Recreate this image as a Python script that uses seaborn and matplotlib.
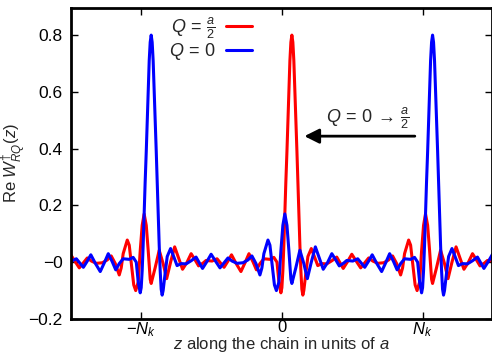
import matplotlib
matplotlib.use('Agg')
import matplotlib.pyplot as plt
import seaborn as sns
import pandas as pd

# z em unidades de N_k
z_red = [-1.532, -1.503, -1.472, -1.440, -1.411, -1.383, -1.354, -1.319, -1.276, -1.241,
         -1.213, -1.184, -1.156, -1.142, -1.128, -1.099, -1.085, -1.071, -1.053, -1.039,
         -1.021, -1.007, -0.993, -0.979, -0.964, -0.950, -0.936,
         -0.929, -0.901, -0.872, -0.844, -0.819, -0.791, -0.762, -0.734, -0.706, -0.674,
         -0.645, -0.617, -0.592, -0.560, -0.539, -0.496, -0.461, -0.436, -0.411, -0.383,
         -0.358, -0.326, -0.291, -0.262, -0.234, -0.206, -0.181, -0.156, -0.128, -0.085,
         -0.057, -0.035, -0.021, -0.007, 0.000, 0.007, 0.014, 0.021, 0.028, 0.036,
         0.043, 0.050, 0.057, 0.064, 0.071, 0.078, 0.085, 0.092, 0.099, 0.107,
         0.114, 0.121, 0.128, 0.135, 0.142, 0.149, 0.156, 0.170, 0.185, 0.209,
         0.231, 0.255, 0.284, 0.319, 0.355, 0.390, 0.411, 0.436, 0.468, 0.497,
         0.528, 0.560, 0.589, 0.617, 0.646, 0.681, 0.724, 0.759, 0.787, 0.816,
         0.844, 0.858, 0.872, 0.901, 0.915, 0.929, 0.947, 0.961, 0.979, 0.993,
         1.007, 1.021, 1.036, 1.050, 1.064,
         1.071, 1.099, 1.128, 1.156, 1.181, 1.209, 1.238, 1.266, 1.294, 1.326,
         1.355, 1.383, 1.408, 1.440, 1.461, 1.504, 1.539]
w_red = [0.003, 0.028, 0.004, -0.020, -0.002, 0.015, 0.004, -0.004, -0.002, 0.008,
         0.022, -0.005, -0.045, -0.020, 0.030, 0.078, 0.060, 0.000, -0.080, -0.100,
         -0.070, 0.040, 0.130, 0.170, 0.130, 0.040, -0.060,
         -0.075, -0.020, 0.042, -0.005, -0.058, 0.000, 0.054, 0.015, -0.025, 0.000,
         0.030, 0.008, -0.013, -0.003, 0.006, 0.004, 0.012, -0.003, -0.018, 0.004,
         0.026, -0.004, -0.033, -0.002, 0.030, 0.002, -0.027, -0.005, 0.012, 0.010,
         0.017, 0.000, -0.070, -0.108, -0.090, -0.030, 0.060, 0.170, 0.280, 0.390,
         0.500, 0.610, 0.710, 0.775, 0.800, 0.775, 0.710, 0.610, 0.500, 0.390,
         0.280, 0.170, 0.060, -0.030, -0.095, -0.116, -0.100, -0.040, 0.020, 0.048,
         0.020, -0.012, -0.005, -0.006, 0.005, 0.018, 0.000, -0.022, 0.003, 0.028,
         0.004, -0.020, -0.002, 0.015, 0.004, -0.004, -0.002, 0.008, 0.022, -0.005,
         -0.045, -0.020, 0.030, 0.078, 0.060, 0.000, -0.080, -0.100, -0.070, 0.040,
         0.130, 0.170, 0.130, 0.040, -0.060,
         -0.075, -0.020, 0.042, -0.005, -0.058, 0.000, 0.054, 0.015, -0.025, 0.000,
         0.030, 0.008, -0.013, -0.003, 0.006, 0.004, 0.012]

z_blue = [-1.539, -1.496, -1.461, -1.436, -1.411, -1.383, -1.358, -1.326, -1.291, -1.262,
          -1.234, -1.206, -1.181, -1.156, -1.128, -1.085, -1.057, -1.035, -1.021, -1.007,
          -1.000, -0.993, -0.986, -0.979, -0.972, -0.964, -0.957, -0.950, -0.943, -0.936,
          -0.929, -0.922, -0.915, -0.908, -0.901, -0.893, -0.886, -0.879, -0.872, -0.865,
          -0.858, -0.851, -0.844, -0.830, -0.815, -0.791, -0.769, -0.745, -0.716, -0.681,
          -0.645, -0.610, -0.589, -0.564, -0.532, -0.503, -0.472, -0.440, -0.411, -0.383,
          -0.354, -0.319, -0.276, -0.241, -0.213, -0.184, -0.156, -0.142, -0.128, -0.099,
          -0.085, -0.071, -0.053, -0.039, -0.021, -0.007, 0.007, 0.021, 0.036, 0.050,
          0.064,
          0.071, 0.099, 0.128, 0.156, 0.181, 0.209, 0.238, 0.266, 0.294, 0.326,
          0.355, 0.383, 0.408, 0.440, 0.461, 0.504, 0.539, 0.564, 0.589, 0.617,
          0.642, 0.674, 0.709, 0.738, 0.766, 0.794, 0.819, 0.844, 0.872, 0.915,
          0.943, 0.965, 0.979, 0.993, 1.000, 1.007, 1.014, 1.021, 1.028, 1.036,
          1.043, 1.050, 1.057, 1.064, 1.071, 1.078, 1.085, 1.092, 1.099, 1.107,
          1.114, 1.121, 1.128, 1.135, 1.142, 1.149, 1.156, 1.170, 1.185, 1.209,
          1.231, 1.255, 1.284, 1.319, 1.355, 1.390, 1.411, 1.436, 1.468, 1.497,
          1.528]
w_blue = [0.006, 0.004, 0.012, -0.003, -0.018, 0.004, 0.026, -0.004, -0.033, -0.002,
          0.030, 0.002, -0.027, -0.005, 0.012, 0.010, 0.017, 0.000, -0.070, -0.108,
          -0.090, -0.030, 0.060, 0.170, 0.280, 0.390, 0.500, 0.610, 0.710, 0.775,
          0.800, 0.775, 0.710, 0.610, 0.500, 0.390, 0.280, 0.170, 0.060, -0.030,
          -0.095, -0.116, -0.100, -0.040, 0.020, 0.048, 0.020, -0.012, -0.005, -0.006,
          0.005, 0.018, 0.000, -0.022, 0.003, 0.028, 0.004, -0.020, -0.002, 0.015,
          0.004, -0.004, -0.002, 0.008, 0.022, -0.005, -0.045, -0.020, 0.030, 0.078,
          0.060, 0.000, -0.080, -0.100, -0.070, 0.040, 0.130, 0.170, 0.130, 0.040,
          -0.060,
          -0.075, -0.020, 0.042, -0.005, -0.058, 0.000, 0.054, 0.015, -0.025, 0.000,
          0.030, 0.008, -0.013, -0.003, 0.006, 0.004, 0.012, -0.003, -0.018, 0.004,
          0.026, -0.004, -0.033, -0.002, 0.030, 0.002, -0.027, -0.005, 0.012, 0.010,
          0.017, 0.000, -0.070, -0.108, -0.090, -0.030, 0.060, 0.170, 0.280, 0.390,
          0.500, 0.610, 0.710, 0.775, 0.800, 0.775, 0.710, 0.610, 0.500, 0.390,
          0.280, 0.170, 0.060, -0.030, -0.095, -0.116, -0.100, -0.040, 0.020, 0.048,
          0.020, -0.012, -0.005, -0.006, 0.005, 0.018, 0.000, -0.022, 0.003, 0.028,
          0.004]

x_ticks = [-1, 0, 1]
x_tick_labels = [r'$-N_k$', '0', r'$N_k$']
y_ticks = [-0.2, 0, 0.2, 0.4, 0.6, 0.8]
y_tick_labels = ['\u22120.2', '\u22120', '0.2', '0.4', '0.6', '0.8']

df_red = pd.DataFrame({'z': z_red, 'w': w_red})
df_blue = pd.DataFrame({'z': z_blue, 'w': w_blue})

sns.set_style('ticks')
plt.rcParams['font.family'] = ['Liberation Sans', 'DejaVu Sans']
plt.rcParams['mathtext.fontset'] = 'custom'
plt.rcParams['mathtext.rm'] = 'Liberation Sans'
plt.rcParams['mathtext.it'] = 'Liberation Sans:italic'
plt.rcParams['mathtext.bf'] = 'Liberation Sans:bold'

fig = plt.figure(figsize=(4.92, 3.54), dpi=100)
ax = fig.add_axes([0.144, 0.099, 0.855, 0.878])

sns.lineplot(data=df_red, x='z', y='w', color='#ff0000', lw=2.2, sort=False,
             estimator=None, label=r'$Q\,=\,\frac{a}{2}$', ax=ax)
sns.lineplot(data=df_blue, x='z', y='w', color='#0000ff', lw=2.2, sort=False,
             estimator=None, label=r'$Q\,=\,0$', ax=ax)

ax.set_xlim(-1.5, 1.49)
ax.set_ylim(-0.2, 0.895)
ax.set_xticks(x_ticks)
ax.set_xticklabels(x_tick_labels)
ax.set_yticks(y_ticks)
ax.set_yticklabels(y_tick_labels)
ax.tick_params(direction='in', length=5, width=1, top=True, right=True,
               labelsize=12.5, colors='black')
ax.tick_params(axis='y', pad=6)
ax.tick_params(axis='x', pad=1, labelsize=12)
for s in ax.spines.values():
    s.set_linewidth(2)
    s.set_color('black')

ax.set_xlabel(r'$z$ along the chain in units of $a$', fontsize=12, labelpad=-3)
ax.set_ylabel(r'Re $W^{\dagger}_{RQ}(z)$', fontsize=12, labelpad=0)

ax.legend(loc='upper left', bbox_to_anchor=(0.215, 1.0), frameon=False,
          markerfirst=False, fontsize=13, handlelength=1.4, handletextpad=0.6,
          labelspacing=0.0, borderaxespad=0)

ax.annotate('', xy=(0.16, 0.444), xytext=(0.945, 0.444),
            arrowprops=dict(arrowstyle='-|>', color='black', lw=2,
                            mutation_scale=22, shrinkA=0, shrinkB=0))
ax.text(0.61, 0.462, r'$Q\,=\,0\,\rightarrow\,\frac{a}{2}$', fontsize=13,
        ha='center', va='bottom')

fig.savefig('out.png', dpi=100)
